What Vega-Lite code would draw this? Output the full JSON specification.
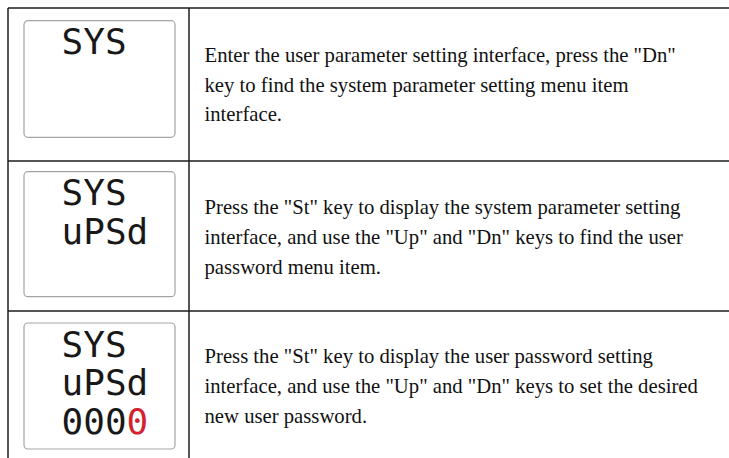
{
  "$schema": "https://vega.github.io/schema/vega-lite/v6.json",
  "background": "white",
  "padding": {"left": 7, "top": 7, "right": 0, "bottom": 0},
  "autosize": {"type": "pad"},
  "bounds": "flush",
  "spacing": 0,
  "columns": 2,
  "resolve": {"scale": {"x": "independent", "y": "independent", "color": "independent"}},
  "config": {"view": {"stroke": null}, "concat": {"spacing": 0}},
  "datasets": {
    "lcd": [
      {"step": 1, "line": 1, "col": 0, "text": "SYS", "state": "fixed"},
      {"step": 2, "line": 1, "col": 0, "text": "SYS", "state": "fixed"},
      {"step": 2, "line": 2, "col": 0, "text": "uPSd", "state": "fixed"},
      {"step": 3, "line": 1, "col": 0, "text": "SYS", "state": "fixed"},
      {"step": 3, "line": 2, "col": 0, "text": "uPSd", "state": "fixed"},
      {"step": 3, "line": 3, "col": 0, "text": "000", "state": "fixed"},
      {"step": 3, "line": 3, "col": 3, "text": "0", "state": "editing"}
    ],
    "desc": [
      {"step": 1, "line": 1, "text": "Enter the user parameter setting interface, press the \"Dn\""},
      {"step": 1, "line": 2, "text": "key to find the system parameter setting menu item"},
      {"step": 1, "line": 3, "text": "interface."},
      {"step": 2, "line": 1, "text": "Press the \"St\" key to display the system parameter setting"},
      {"step": 2, "line": 2, "text": "interface, and use the \"Up\" and \"Dn\" keys to find the user"},
      {"step": 2, "line": 3, "text": "password menu item."},
      {"step": 3, "line": 1, "text": "Press the \"St\" key to display the user password setting"},
      {"step": 3, "line": 2, "text": "interface, and use the \"Up\" and \"Dn\" keys to set the desired"},
      {"step": 3, "line": 3, "text": "new user password."}
    ],
    "one": [{"cell": "border"}]
  },
  "concat": [
    {
      "width": 181, "height": 153,
      "layer": [
        {
          "data": {"name": "one"},
          "mark": {"type": "rect", "fill": "white", "stroke": "#a5a5a5", "strokeWidth": 1.2, "cornerRadius": 4},
          "encoding": {
            "x": {"datum": -1.735, "type": "quantitative", "scale": {"domain": [-2.473, 5.879], "nice": false, "zero": false}, "axis": null},
            "x2": {"datum": 5.233},
            "y": {"datum": 0.141, "type": "quantitative", "scale": {"domain": [-0.1846, 3.7385], "reverse": true, "nice": false, "zero": false}, "axis": null},
            "y2": {"datum": 3.131}
          }
        },
        {
          "data": {"name": "lcd"},
          "transform": [{"filter": "datum.step === 1"}],
          "mark": {"type": "text", "font": "DejaVu Sans Mono", "fontSize": 36, "align": "left", "baseline": "alphabetic"},
          "encoding": {
            "x": {"field": "col", "type": "quantitative", "axis": null},
            "y": {"field": "line", "type": "quantitative", "axis": null},
            "text": {"field": "text"},
            "color": {"field": "state", "type": "nominal", "scale": {"domain": ["fixed", "editing"], "range": ["#181818", "#d3212d"]}, "legend": null}
          }
        },
        {
          "data": {"name": "one"},
          "mark": {"type": "rule", "color": "#1c1c1c", "strokeWidth": 1.5},
          "encoding": {"x": {"datum": -2.473, "type": "quantitative", "axis": null}}
        },
        {
          "data": {"name": "one"},
          "mark": {"type": "rule", "color": "#1c1c1c", "strokeWidth": 1.5},
          "encoding": {"x": {"datum": 5.879, "type": "quantitative", "axis": null}}
        },
        {
          "data": {"name": "one"},
          "mark": {"type": "rule", "color": "#1c1c1c", "strokeWidth": 1.5},
          "encoding": {"y": {"datum": -0.1846, "type": "quantitative", "axis": null}}
        }
      ]
    },
    {
      "width": 541, "height": 153,
      "layer": [
        {
          "data": {"name": "desc"},
          "transform": [{"filter": "datum.step === 1"}],
          "mark": {"type": "text", "font": "Liberation Serif", "fontSize": 20.7, "align": "left", "baseline": "alphabetic", "color": "#111111"},
          "encoding": {
            "x": {"datum": 0, "type": "quantitative", "scale": {"domain": [-0.0295, 1], "nice": false, "zero": false}, "axis": null},
            "y": {"field": "line", "type": "quantitative", "scale": {"domain": [-0.802, 4.332], "reverse": true, "nice": false, "zero": false}, "axis": null},
            "text": {"field": "text"}
          }
        },
        {
          "data": {"name": "one"},
          "mark": {"type": "rule", "color": "#1c1c1c", "strokeWidth": 1.5},
          "encoding": {"y": {"datum": -0.802, "type": "quantitative", "axis": null}}
        }
      ]
    },
    {
      "width": 181, "height": 150,
      "layer": [
        {
          "data": {"name": "one"},
          "mark": {"type": "rect", "fill": "white", "stroke": "#a5a5a5", "strokeWidth": 1.2, "cornerRadius": 4},
          "encoding": {
            "x": {"datum": -1.735, "type": "quantitative", "scale": {"domain": [-2.473, 5.879], "nice": false, "zero": false}, "axis": null},
            "x2": {"datum": 5.233},
            "y": {"datum": 0.141, "type": "quantitative", "scale": {"domain": [-0.1333, 3.7128], "reverse": true, "nice": false, "zero": false}, "axis": null},
            "y2": {"datum": 3.346}
          }
        },
        {
          "data": {"name": "lcd"},
          "transform": [{"filter": "datum.step === 2"}],
          "mark": {"type": "text", "font": "DejaVu Sans Mono", "fontSize": 36, "align": "left", "baseline": "alphabetic"},
          "encoding": {
            "x": {"field": "col", "type": "quantitative", "axis": null},
            "y": {"field": "line", "type": "quantitative", "axis": null},
            "text": {"field": "text"},
            "color": {"field": "state", "type": "nominal", "scale": {"domain": ["fixed", "editing"], "range": ["#181818", "#d3212d"]}, "legend": null}
          }
        },
        {
          "data": {"name": "one"},
          "mark": {"type": "rule", "color": "#1c1c1c", "strokeWidth": 1.5},
          "encoding": {"x": {"datum": -2.473, "type": "quantitative", "axis": null}}
        },
        {
          "data": {"name": "one"},
          "mark": {"type": "rule", "color": "#1c1c1c", "strokeWidth": 1.5},
          "encoding": {"x": {"datum": 5.879, "type": "quantitative", "axis": null}}
        },
        {
          "data": {"name": "one"},
          "mark": {"type": "rule", "color": "#1c1c1c", "strokeWidth": 1.5},
          "encoding": {"y": {"datum": -0.1333, "type": "quantitative", "axis": null}}
        }
      ]
    },
    {
      "width": 541, "height": 150,
      "layer": [
        {
          "data": {"name": "desc"},
          "transform": [{"filter": "datum.step === 2"}],
          "mark": {"type": "text", "font": "Liberation Serif", "fontSize": 20.7, "align": "left", "baseline": "alphabetic", "color": "#111111"},
          "encoding": {
            "x": {"datum": 0, "type": "quantitative", "scale": {"domain": [-0.0295, 1], "nice": false, "zero": false}, "axis": null},
            "y": {"field": "line", "type": "quantitative", "scale": {"domain": [-0.7785, 4.255], "reverse": true, "nice": false, "zero": false}, "axis": null},
            "text": {"field": "text"}
          }
        },
        {
          "data": {"name": "one"},
          "mark": {"type": "rule", "color": "#1c1c1c", "strokeWidth": 1.5},
          "encoding": {"y": {"datum": -0.7785, "type": "quantitative", "axis": null}}
        }
      ]
    },
    {
      "width": 181, "height": 147,
      "layer": [
        {
          "data": {"name": "one"},
          "mark": {"type": "rect", "fill": "white", "stroke": "#a5a5a5", "strokeWidth": 1.2, "cornerRadius": 4},
          "encoding": {
            "x": {"datum": -1.735, "type": "quantitative", "scale": {"domain": [-2.473, 5.879], "nice": false, "zero": false}, "axis": null},
            "x2": {"datum": 5.233},
            "y": {"datum": 0.141, "type": "quantitative", "scale": {"domain": [-0.1667, 3.6026], "reverse": true, "nice": false, "zero": false}, "axis": null},
            "y2": {"datum": 3.372}
          }
        },
        {
          "data": {"name": "lcd"},
          "transform": [{"filter": "datum.step === 3"}],
          "mark": {"type": "text", "font": "DejaVu Sans Mono", "fontSize": 36, "align": "left", "baseline": "alphabetic"},
          "encoding": {
            "x": {"field": "col", "type": "quantitative", "axis": null},
            "y": {"field": "line", "type": "quantitative", "axis": null},
            "text": {"field": "text"},
            "color": {"field": "state", "type": "nominal", "scale": {"domain": ["fixed", "editing"], "range": ["#181818", "#d3212d"]}, "legend": null}
          }
        },
        {
          "data": {"name": "one"},
          "mark": {"type": "rule", "color": "#1c1c1c", "strokeWidth": 1.5},
          "encoding": {"x": {"datum": -2.473, "type": "quantitative", "axis": null}}
        },
        {
          "data": {"name": "one"},
          "mark": {"type": "rule", "color": "#1c1c1c", "strokeWidth": 1.5},
          "encoding": {"x": {"datum": 5.879, "type": "quantitative", "axis": null}}
        },
        {
          "data": {"name": "one"},
          "mark": {"type": "rule", "color": "#1c1c1c", "strokeWidth": 1.5},
          "encoding": {"y": {"datum": -0.1667, "type": "quantitative", "axis": null}}
        }
      ]
    },
    {
      "width": 541, "height": 147,
      "layer": [
        {
          "data": {"name": "desc"},
          "transform": [{"filter": "datum.step === 3"}],
          "mark": {"type": "text", "font": "Liberation Serif", "fontSize": 20.7, "align": "left", "baseline": "alphabetic", "color": "#111111"},
          "encoding": {
            "x": {"datum": 0, "type": "quantitative", "scale": {"domain": [-0.0295, 1], "nice": false, "zero": false}, "axis": null},
            "y": {"field": "line", "type": "quantitative", "scale": {"domain": [-0.745, 4.188], "reverse": true, "nice": false, "zero": false}, "axis": null},
            "text": {"field": "text"}
          }
        },
        {
          "data": {"name": "one"},
          "mark": {"type": "rule", "color": "#1c1c1c", "strokeWidth": 1.5},
          "encoding": {"y": {"datum": -0.745, "type": "quantitative", "axis": null}}
        }
      ]
    }
  ]
}
